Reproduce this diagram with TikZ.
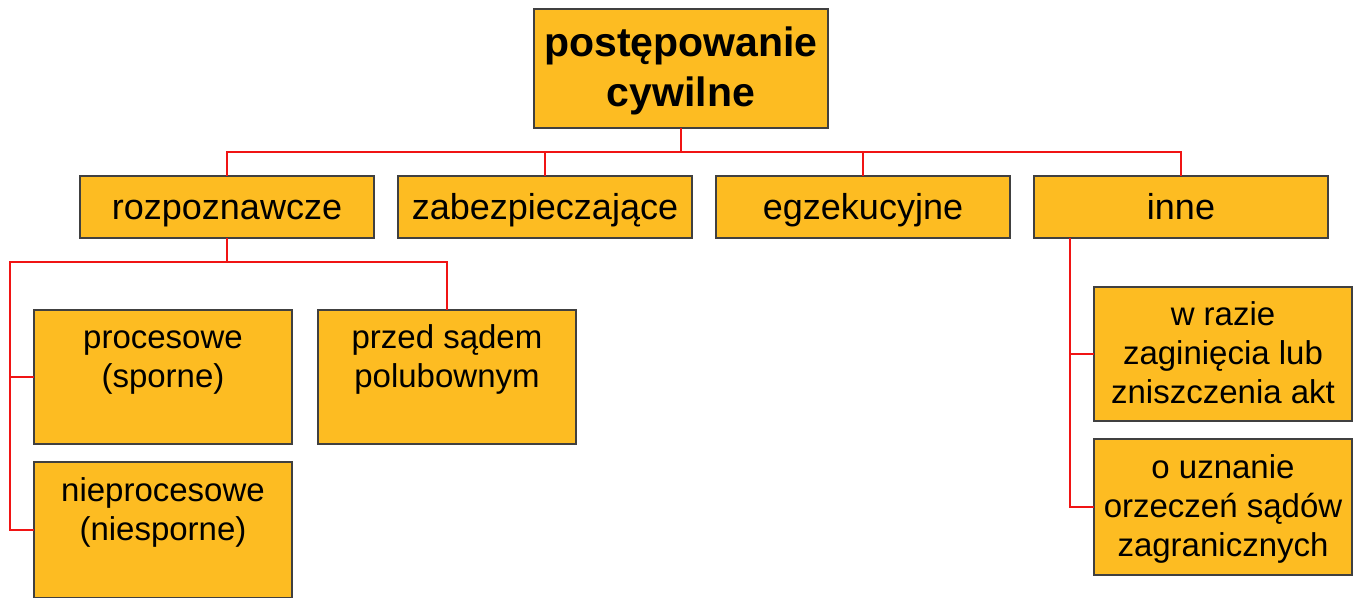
\documentclass[tikz,border=0pt]{standalone}
\usepackage{fontspec}
\setmainfont{Liberation Sans}
\definecolor{boxfill}{RGB}{253,188,34}
\definecolor{boxline}{RGB}{64,64,64}
\definecolor{connred}{RGB}{240,20,20}
\begin{document}
\begin{tikzpicture}[x=1pt,y=-1pt,
  box/.style={draw=boxline, fill=boxfill, line width=2pt, inner sep=0pt, outer sep=0pt, anchor=north west},
  conn/.style={draw=connred, line width=1.8pt},
  titletext/.style={anchor=north, inner sep=0pt, align=center, font=\fontsize{41}{50}\selectfont\bfseries},
  midtext/.style={anchor=north, inner sep=0pt, align=center, font=\fontsize{36}{43}\selectfont},
  lowtext/.style={anchor=north, inner sep=0pt, align=center, font=\fontsize{33}{39}\selectfont}
]
\useasboundingbox (0,0) rectangle (1356,597);

% boxes
\node[box, minimum width=294pt, minimum height=119pt] (top) at (534,9) {};
\node[box, minimum width=294pt, minimum height=62pt] (roz) at (80,176) {};
\node[box, minimum width=294pt, minimum height=62pt] (zab) at (398,176) {};
\node[box, minimum width=294pt, minimum height=62pt] (egz) at (716,176) {};
\node[box, minimum width=294pt, minimum height=62pt] (inne) at (1034,176) {};
\node[box, minimum width=258pt, minimum height=134pt] (proc) at (34,310) {};
\node[box, minimum width=258pt, minimum height=136pt] (nproc) at (34,462) {};
\node[box, minimum width=258pt, minimum height=134pt] (przed) at (318,310) {};
\node[box, minimum width=258pt, minimum height=134pt] (wr) at (1094,287) {};
\node[box, minimum width=258pt, minimum height=136pt] (ou) at (1094,439) {};

% texts
\node[titletext] (ttop) at (681,25) {\rule{0pt}{31pt}postępowanie\\cywilne};
\node[midtext] (troz) at (227,192) {\rule{0pt}{27pt}rozpoznawcze};
\node[midtext] (tzab) at (545,192) {\rule{0pt}{27pt}zabezpieczające};
\node[midtext] (tegz) at (863,192) {\rule{0pt}{27pt}egzekucyjne};
\node[midtext] (tinne) at (1181,192) {\rule{0pt}{27pt}inne};
\node[lowtext] (tproc) at (163,323) {\rule{0pt}{25pt}procesowe\\(sporne)};
\node[lowtext] (tprzed) at (447,323) {\rule{0pt}{25pt}przed sądem\\polubownym};
\node[lowtext] (tnproc) at (163,476) {\rule{0pt}{25pt}nieprocesowe\\(niesporne)};
\node[lowtext] (twr) at (1223,300) {\rule{0pt}{25pt}w razie\\zaginięcia lub\\zniszczenia akt};
\node[lowtext] (tou) at (1223,453) {\rule{0pt}{25pt}o uznanie\\orzeczeń sądów\\zagranicznych};

% connectors
\coordinate (bus) at (681,152);
\draw[conn] (top.south) -- (bus);
\draw[conn] (roz.north) |- (bus);
\draw[conn] (zab.north) |- (bus);
\draw[conn] (egz.north) |- (bus);
\draw[conn] (inne.north) |- (bus);

\coordinate (rb) at (227,262);
\coordinate (lt) at (10,262);
\draw[conn] (roz.south) -- (rb);
\draw[conn] (przed.north) |- (rb);
\draw[conn] (rb) -- (lt) |- (nproc.west);
\draw[conn] (lt) |- (proc.west);

\coordinate (ir) at (1070,238);
\draw[conn] (ir) |- (ou.west);
\draw[conn] (ir) |- (wr.west);
\end{tikzpicture}
\end{document}
